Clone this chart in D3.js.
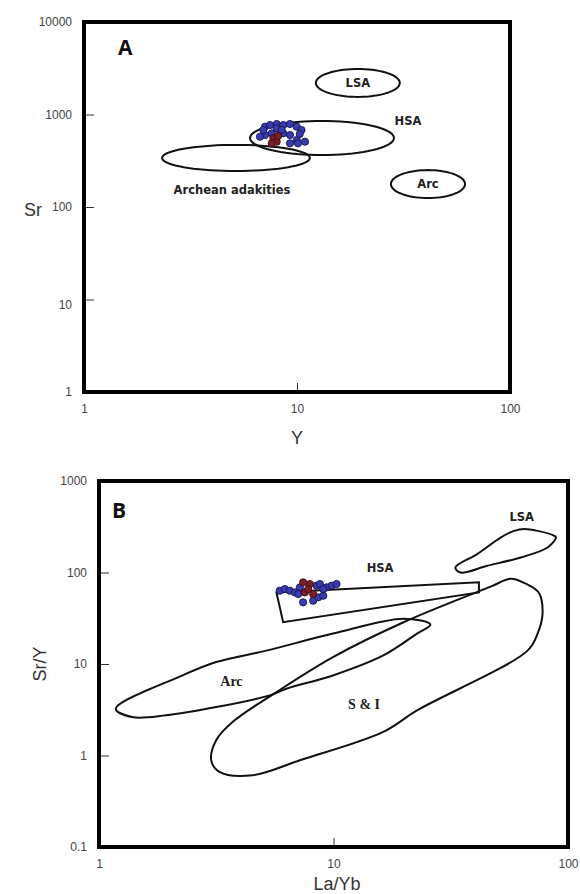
<!DOCTYPE html>
<html>
<head>
<meta charset="utf-8">
<script src="https://cdn.jsdelivr.net/npm/d3@7"></script>
<style>
  body { margin: 0; background: #fff; }
  svg { display: block; }
  .tick-lbl { font-family: "Liberation Sans", Arial, sans-serif; font-size: 12px; fill: #444; }
  .ax-title { font-family: "Liberation Sans", Arial, sans-serif; font-size: 18px; fill: #333; }
  .panel { font-family: "Open Sans", "DejaVu Sans", sans-serif; font-size: 21px; font-weight: bold; fill: #111; }
  .field { font-family: "DejaVu Sans", Tahoma, sans-serif; font-size: 11.5px; font-weight: bold; fill: #222; }
  .field-serif { font-family: "Liberation Serif", serif; font-size: 14px; font-weight: bold; fill: #222; }
</style>
</head>
<body>
<svg id="chart" width="580" height="894"></svg>
<script>
// ---- panel A : Sr vs Y ----
const srTicks = [1, 10, 100, 1000, 10000];
const yTicks = [1, 10, 100];

// sample points (Y, Sr)
const samplesA_blue = [
  [7.08, 738], [7.47, 769], [8.03, 789], [8.62, 769], [9.27, 789], [9.97, 738],
  [10.5, 680], [7.08, 600], [7.61, 626], [8.62, 626], [9.27, 600], [9.97, 530],
  [9.27, 488], [10.1, 488], [10.9, 508], [8.03, 709], [6.95, 680], [6.70, 575],
  [8.47, 680], [10.3, 615]
];
const samplesA_red = [[7.74, 553], [8.03, 508], [7.61, 488], [8.15, 586]];

// fields as ellipses in log space: centre (Y, Sr), half-width in decades
const fieldsA = [
  { name: "LSA", cx: 19.3, cy: 2193, rx: 0.197, ry: 0.151 },
  { name: "HSA", cx: 13.1, cy: 557, rx: 0.338, ry: 0.184 },
  { name: "Archean adakities", cx: 5.17, cy: 339, rx: 0.347, ry: 0.141 },
  { name: "Arc", cx: 41.2, cy: 177, rx: 0.174, ry: 0.151 }
];
const labelsA = [
  { text: "LSA", x: 19.3, y: 2193 },
  { text: "HSA", x: 33.2, y: 851 },
  { text: "Archean adakities", x: 4.95, y: 153 },
  { text: "Arc", x: 41.2, y: 177 }
];

// ---- panel B : Sr/Y vs La/Yb ----
const srYTicks = [0.1, 1, 10, 100, 1000];
const laYbTicks = [1, 10, 100];

const samplesB_blue = [
  [5.90, 63.3], [6.20, 66.0], [6.51, 63.3], [6.84, 60.6], [7.19, 68.8], [8.47, 71.8],
  [8.75, 74.8], [9.35, 68.8], [9.82, 71.8], [10.3, 74.8], [7.42, 47.2], [8.19, 49.2],
  [8.61, 53.5], [9.04, 55.8], [7.07, 58.2], [9.04, 66.0]
];
const samplesB_red = [[7.42, 78.0], [7.93, 74.8], [7.55, 60.6], [8.19, 58.2], [7.80, 66.0]];

const hsaB = [[5.71, 60.6], [41.7, 78], [41.7, 60.6], [6.1, 28.6]];
const lsaB = [
  [33.1, 113.5], [41, 159], [51.6, 241], [58.9, 285], [65, 299], [74.2, 285],
  [87.4, 252], [88.9, 241], [81.8, 187.5], [62.9, 146], [45.3, 118.5], [34.8, 100]
];
const arcB = [
  [1.18, 3.25], [1.385, 2.63], [1.93, 2.75], [3.16, 3.38], [5.35, 4.54], [6.30, 5.37],
  [9.95, 7.5], [16.3, 12.4], [22.7, 21.5], [25.9, 27], [19.9, 31.3], [9.95, 21.5],
  [5.17, 14], [3.16, 10.5], [2.27, 7.5]
];
const siB = [
  [3.71, 2.32], [3.16, 1.47], [3.01, 0.887], [3.26, 0.662], [4.52, 0.609], [7.19, 0.887],
  [16.3, 1.81], [22.7, 3.11], [67.2, 14.0], [74.2, 21.5], [77.9, 35.5], [75.1, 60.2],
  [66.1, 75.4], [57.0, 85.5], [46.8, 70.0], [19.9, 28.6], [9.95, 11.9], [5.71, 4.93]
];
const labelsB = [
  { text: "HSA", x: 15.8, y: 113, cls: "field" },
  { text: "LSA", x: 63.5, y: 405, cls: "field" },
  { text: "Arc", x: 3.67, y: 6.45, cls: "field-serif" },
  { text: "S & I", x: 13.5, y: 3.62, cls: "field-serif" }
];

const svg = d3.select("#chart");

const xA = d3.scaleLog().domain([1, 100]).range([84, 510]);
const yA = d3.scaleLog().domain([1, 10000]).range([392, 22]);
const xB = d3.scaleLog().domain([1, 100]).range([99, 568]);
const yB = d3.scaleLog().domain([0.1, 1000]).range([847, 481]);

function drawFrame(g, x, y) {
  const [x0, x1] = x.range();
  const [y0, y1] = y.range();
  g.append("rect")
    .attr("x", x0).attr("y", y1)
    .attr("width", x1 - x0).attr("height", y0 - y1)
    .attr("fill", "none")
    .attr("stroke", "#000")
    .attr("stroke-width", 4);
}

function drawAxes(g, x, y, xt, yt) {
  const [x0, x1] = x.range();
  const [y0] = y.range();
  // y labels
  g.append("g")
    .attr("transform", `translate(${x0},0)`)
    .call(d3.axisLeft(y).tickValues(yt).tickSize(0).tickPadding(12).tickFormat(d3.format("~g")))
    .call(a => a.select(".domain").remove())
    .call(a => a.selectAll("text").attr("class", "tick-lbl"));
  // inner tick marks on the left border
  g.append("g")
    .attr("transform", `translate(${x0},0)`)
    .call(d3.axisRight(y).tickValues(yt.slice(1, -1)).tickSize(10).tickFormat(""))
    .call(a => a.select(".domain").remove())
    .call(a => a.selectAll("line").attr("stroke", "#333"));
  // x labels
  g.append("g")
    .attr("transform", `translate(0,${y0})`)
    .call(d3.axisBottom(x).tickValues(xt).tickSize(0).tickPadding(12).tickFormat(d3.format("~g")))
    .call(a => a.select(".domain").remove())
    .call(a => a.selectAll("text").attr("class", "tick-lbl"));
  g.append("g")
    .attr("transform", `translate(0,${y0})`)
    .call(d3.axisTop(x).tickValues(xt.slice(1, -1)).tickSize(9).tickFormat(""))
    .call(a => a.select(".domain").remove())
    .call(a => a.selectAll("line").attr("stroke", "#333"));
}

function ellipsePath(x, y, f) {
  const pts = d3.range(0, 73).map(i => {
    const t = i / 72 * 2 * Math.PI;
    return [x(f.cx * Math.pow(10, f.rx * Math.cos(t))), y(f.cy * Math.pow(10, f.ry * Math.sin(t)))];
  });
  return d3.line().curve(d3.curveLinearClosed)(pts);
}

function drawDots(g, x, y, data, fill, stroke) {
  g.selectAll(null)
    .data(data)
    .enter().append("circle")
    .attr("cx", d => x(d[0]))
    .attr("cy", d => y(d[1]))
    .attr("r", 3.6)
    .attr("fill", fill)
    .attr("stroke", stroke)
    .attr("stroke-width", 0.9);
}

// ---------- panel A ----------
const gA = svg.append("g");
drawAxes(gA, xA, yA, yTicks, srTicks);
// end labels of the x axis sit lower, as in the original
gA.selectAll("g").filter((d, i) => i === 2).selectAll(".tick text")
  .attr("dy", (d) => (d === 1 || d === 100) ? "2.2em" : "0.71em")
  .attr("dx", (d) => d === 1 ? 6 : d === 100 ? -10 : 0);

gA.selectAll(".fieldA")
  .data(fieldsA)
  .enter().append("path")
  .attr("d", f => ellipsePath(xA, yA, f))
  .attr("fill", "none")
  .attr("stroke", "#111")
  .attr("stroke-width", 2);

drawDots(gA, xA, yA, samplesA_blue, "#3b3bb0", "#15154f");
drawDots(gA, xA, yA, samplesA_red, "#7a1f28", "#3a0b10");

gA.selectAll(".lblA")
  .data(labelsA)
  .enter().append("text")
  .attr("class", "field")
  .attr("x", d => xA(d.x))
  .attr("y", d => yA(d.y))
  .attr("dy", "0.35em")
  .attr("text-anchor", "middle")
  .text(d => d.text);

drawFrame(gA, xA, yA);
gA.append("text").attr("class", "panel").attr("x", 118).attr("y", 55).text("A");
gA.append("text").attr("class", "ax-title").attr("x", 24).attr("y", 216).text("Sr");
gA.append("text").attr("class", "ax-title").attr("x", 297).attr("y", 444).attr("text-anchor", "middle").text("Y");

// ---------- panel B ----------
const gB = svg.append("g");
drawAxes(gB, xB, yB, laYbTicks, srYTicks);

const smooth = d3.line().x(d => xB(d[0])).y(d => yB(d[1])).curve(d3.curveCatmullRomClosed.alpha(0.5));
const straight = d3.line().x(d => xB(d[0])).y(d => yB(d[1])).curve(d3.curveLinearClosed);

[[siB, smooth], [arcB, smooth], [hsaB, straight], [lsaB, smooth]].forEach(([pts, gen]) => {
  gB.append("path")
    .attr("d", gen(pts))
    .attr("fill", "none")
    .attr("stroke", "#111")
    .attr("stroke-width", 2);
});

drawDots(gB, xB, yB, samplesB_blue, "#3b3bb0", "#15154f");
drawDots(gB, xB, yB, samplesB_red, "#7a1f28", "#3a0b10");

gB.selectAll(".lblB")
  .data(labelsB)
  .enter().append("text")
  .attr("class", d => d.cls)
  .attr("x", d => xB(d.x))
  .attr("y", d => yB(d.y))
  .attr("dy", "0.35em")
  .attr("text-anchor", "middle")
  .text(d => d.text);

drawFrame(gB, xB, yB);
gB.append("text").attr("class", "panel").attr("x", 112).attr("y", 518).text("B");
gB.append("text").attr("class", "ax-title")
  .attr("transform", "translate(46,664) rotate(-90)")
  .attr("text-anchor", "middle").text("Sr/Y");
gB.append("text").attr("class", "ax-title").attr("x", 337).attr("y", 890).attr("text-anchor", "middle").text("La/Yb");
</script>
</body>
</html>
